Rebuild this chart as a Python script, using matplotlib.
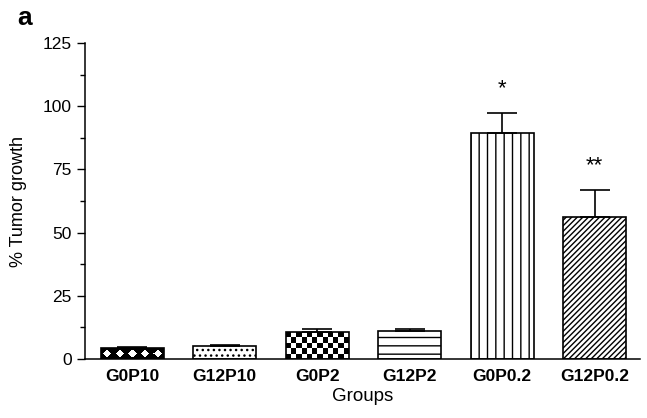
import numpy as np
import matplotlib
matplotlib.use("Agg")
import matplotlib.pyplot as plt

# values
groups = ['G0P10', 'G12P10', 'G0P2', 'G12P2', 'G0P0.2', 'G12P0.2']
means = [4.3, 5.0, 10.6, 11.0, 89.3, 56.2]
errs = [0.5, 0.6, 1.1, 0.7, 8.2, 10.7]
marks = ['', '', '', '', '*', '**']
hatches = [None, '...', None, '--', '||', '//////']

plt.rcParams['font.family'] = ['Liberation Sans', 'DejaVu Sans']
plt.rcParams['hatch.linewidth'] = 1.0

fig = plt.figure(figsize=(6.47, 4.18), dpi=100)
ax = fig.add_axes([0.1314, 0.1411, 0.8576, 0.756])

x = np.arange(len(groups))
bars = ax.bar(x, means, width=0.68, color='white', edgecolor='black',
              linewidth=1.2, zorder=2)
for b, h in zip(bars, hatches):
    if h:
        b.set_hatch(h)

# patterns matplotlib has no hatch for: filled via clipped images
yy, xx = np.mgrid[0:12, 0:60]
diamonds = (np.abs((xx % 12) - 5.5) + np.abs(yy - 5.5) < 4.8).astype(float)
checker = (np.indices((5, 12)).sum(axis=0) % 2).astype(float)
for idx, pat in [(0, diamonds), (2, checker)]:
    b = bars[idx]
    b.set_facecolor('none')
    x0, y0, w, h = b.get_x(), b.get_y(), b.get_width(), b.get_height()
    im = ax.imshow(pat, cmap='gray', vmin=0, vmax=1, aspect='auto',
                   extent=(x0, x0 + w, y0, y0 + h), interpolation='nearest',
                   zorder=1)
    im.set_clip_path(b)

ax.errorbar(x, means, yerr=[np.zeros(len(errs)), errs], fmt='none',
            ecolor='black', elinewidth=1.2, capsize=10.8, capthick=1.2, zorder=3)

for xi, m, e, s in zip(x, means, errs, marks):
    if s:
        ax.text(xi, m + e + 9.5, s, ha='center', va='center', fontsize=16)

ax.set_xlim(-0.51, 5.49)
ax.set_ylim(0, 125)
ax.set_yticks([0, 25, 50, 75, 100, 125])
ax.set_yticks(np.arange(12.5, 125, 25), minor=True)
ax.set_xticks(x)
ax.set_xticklabels(groups, fontweight='bold', fontsize=12.5)
ax.tick_params(axis='x', length=0, pad=7)
ax.tick_params(axis='y', which='major', length=6, width=1, labelsize=12.5, pad=3.5)
ax.tick_params(axis='y', which='minor', length=3.5, width=1)

for side in ['top', 'right']:
    ax.spines[side].set_visible(False)
for side in ['left', 'bottom']:
    ax.spines[side].set_linewidth(1.1)

ax.set_xlabel('Groups', fontsize=13.5, labelpad=3)
ax.set_ylabel('% Tumor growth', fontsize=13, labelpad=11)

fig.text(0.027, 0.94, 'a', fontsize=19, fontweight='bold', va='baseline')

fig.savefig('out.png', dpi=100)
